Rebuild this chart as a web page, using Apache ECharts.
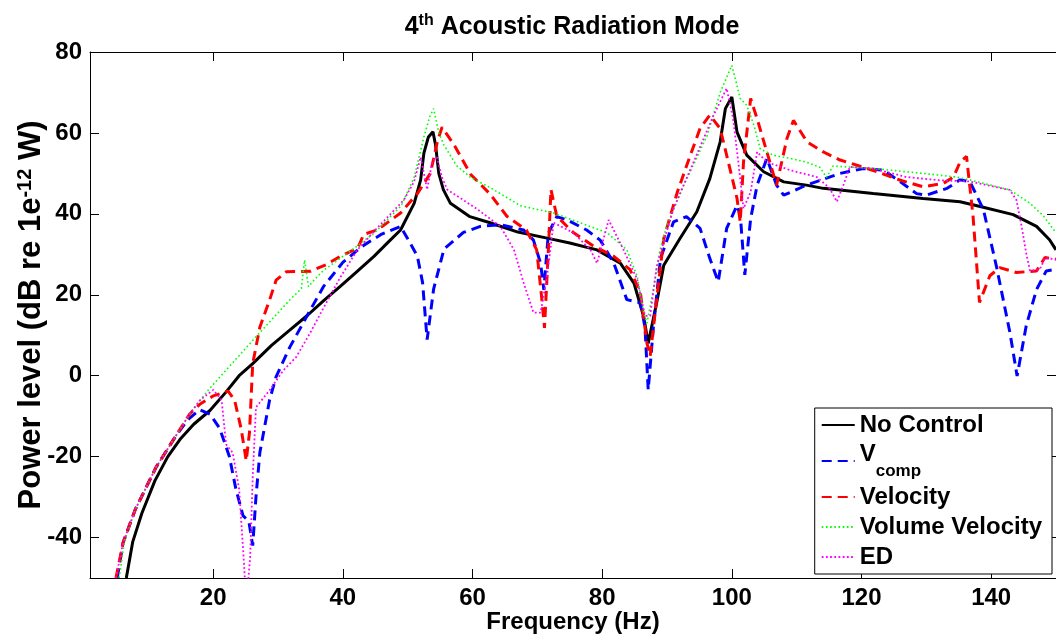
<!DOCTYPE html>
<html>
<head>
<meta charset="utf-8">
<script src="https://cdn.jsdelivr.net/npm/echarts@6/dist/echarts.min.js"></script>
<style>
	html, body { margin: 0; padding: 0; background: #fff; }
	#main { width: 1056px; height: 639px; }
</style>
</head>
<body>
<div id="main"></div>
<script>
// tick values of both axes
var freqTicks = [20, 40, 60, 80, 100, 120, 140];
var levelTicks = [-40, -20, 0, 20, 40, 60, 80];

// [frequency Hz, power level dB]
var noControl = [[6.6,-50],[7.6,-41],[9,-34],[11,-26],[13,-20],[15,-15.5],[17,-12],[19.5,-8.6],[22,-4],[24,0],[26.1,3],[29,7.5],[31.9,11.4],[34.6,15],[37,18.5],[39.6,22.1],[42,25.5],[44.8,29.5],[47,33],[48.9,36],[51,42.6],[52,48.4],[52.5,55],[53.2,59],[53.9,60.3],[54.3,57],[54.8,50],[55.5,46],[56.6,42.6],[59.6,39.3],[62.7,37.8],[67,35.5],[71.5,34],[75,32.8],[79.2,31.1],[82.8,27.8],[84.9,22.9],[86.4,14.6],[87.1,8],[88.4,18],[89.5,27.3],[92,33.9],[94.6,40.5],[96.6,48.7],[98.2,57.8],[99,66],[100,68.9],[100.8,60.2],[102.3,54.5],[104.9,50.4],[108,47.9],[111.5,47.1],[114.1,46.3],[121.8,45],[129.5,43.8],[135.2,43],[138.3,41.8],[143.4,39.8],[147,36.9],[149,33.6],[150,31.1]];

var vComp = [[5.2,-50],[6.1,-41.3],[8,-33],[11.2,-22.6],[14,-15.5],[16,-11],[17.9,-8.4],[19.5,-9.5],[21,-13],[22.5,-20],[23.5,-28],[24.6,-34.6],[25.5,-36],[26.1,-42],[26.6,-30],[27.2,-19],[28.7,-6],[29.7,-0.3],[31.8,7],[34.9,16],[37,22],[40,28],[43,32],[46,35],[48.9,36.9],[50.3,33],[51.5,29.5],[52.3,23],[53,8.9],[54,21.4],[55.6,31.3],[58.6,35.4],[61.2,36.9],[64.3,37.3],[67.9,36],[69.4,33.5],[70.5,27.8],[71,21.2],[71.7,35.2],[73,39.3],[74.6,38.5],[77.6,36],[79.7,33.5],[81.8,27.8],[83.8,18.8],[85.9,18],[86.6,12],[87.1,-3.5],[87.9,12],[89,29],[91,38],[93,39.3],[95.1,36.4],[96.6,29],[97.9,23.2],[99.2,36.4],[100.8,42.1],[101.3,39.7],[102,24.9],[102.9,38.8],[103.9,47.1],[105.4,53.7],[106.9,47.1],[108,44.6],[111.5,47.1],[116.7,50],[120.3,51.2],[123.4,50.8],[126,47.9],[128.5,45],[130,44.6],[133.2,46.3],[135.2,48.4],[136.7,48],[138.8,41.1],[140.8,27.1],[142.9,10.6],[144,-0.1],[145.4,12.3],[147,21.3],[148.5,25.9],[150,26.3]];

var velocity = [[5,-50],[6.1,-41.3],[8,-33],[11.2,-22.6],[14,-15.5],[16.4,-9.4],[18,-7],[20,-5],[22.3,-3.8],[23.3,-6],[24.3,-13],[25.1,-21],[25.6,-14],[26.1,3],[27.2,12],[28.7,18.7],[29.7,23.6],[31.3,25.7],[35,25.8],[37.5,27.5],[39.6,29.5],[42.3,31.5],[43.2,34.9],[45.3,36],[48.9,40.2],[51.5,45],[53.5,50],[54.6,58],[55.3,61.4],[57.1,57.2],[59.7,49.8],[62.7,44.9],[65.3,39.4],[68.3,36],[69.9,31.1],[70.7,18.8],[71.1,11.8],[71.7,31],[72.1,46],[73,39.4],[75.6,35.3],[78.7,32],[81.8,29.5],[84.3,26.2],[85.9,20.5],[86.9,8.1],[87.4,4.8],[88.4,18.8],[89.5,33.9],[91.6,45.4],[93.6,54.5],[95.1,61.1],[96.6,64.4],[98.2,61.1],[99.7,51.2],[100.8,43.8],[101.3,38],[101.8,52.8],[102.9,68.5],[103.9,63.5],[105.4,55.3],[106.9,47.1],[108.5,58.6],[109.5,63.1],[111.6,57.8],[114.1,55.3],[116.7,53.3],[119.3,52],[122.4,50.4],[126,48.3],[129.5,46.7],[132.6,47.5],[134.2,49.1],[135.2,52.8],[136.2,54.2],[137.2,39.5],[138.2,18.1],[139.8,24.7],[141.3,26.7],[143.9,25.5],[147,25.9],[148.3,29.2],[150,28.8]];

var volumeVelocity = [[5.5,-50],[6.3,-41],[8,-33],[11.2,-22.6],[14,-15.5],[16.4,-9.4],[19,-4],[21.5,0.5],[26.6,9.6],[31.8,18.7],[33.6,21.5],[34.1,28.6],[34.7,22],[35.5,23.5],[37,26],[40,29.5],[42.2,32],[45,35.5],[47.3,39.3],[49,42],[51,49],[52.5,59],[53.4,64],[54,66],[54.8,60],[55.6,57],[57.5,52],[59.7,49],[62.7,46.5],[67.4,42],[72.5,40.2],[76.6,37.8],[80.8,35.3],[83.8,31.1],[85.4,24.6],[86.4,15.6],[86.9,13],[87.9,21.3],[88.9,31],[90,37.2],[92.6,47.1],[96.2,59.4],[98.2,70],[100,76.7],[101.3,68.5],[102.3,66.8],[103.4,61.9],[104.4,56],[106.4,54.5],[109,53.7],[111.5,52.8],[113.6,51.5],[114.6,49],[115.6,51.8],[121.8,51.2],[129.5,50],[134.6,49.1],[136.7,48.4],[142.9,45.9],[146,42.6],[148.1,39.4],[150,35.3]];

var ed = [[5,-50],[6.1,-41.3],[8,-33],[11.2,-22.6],[14,-15.5],[16.4,-9.4],[18,-6],[20,-3.5],[21.3,-6],[22,-17],[23,-19],[24,-28],[24.7,-45],[25.1,-56],[25.7,-45],[26.1,-25],[26.6,-7.8],[28.7,-3.6],[30.8,1.3],[32.8,4.6],[34.9,10.4],[37.1,17],[39.5,24],[42.2,31],[45,36],[49.4,43.4],[51,48],[52,54],[53,46],[53.8,53],[54.5,54],[55.3,49],[56.1,46],[60.7,41.2],[64.3,36.9],[66.4,31.1],[67.9,22.9],[69.4,15.6],[70.5,15.6],[71.5,24.6],[72.5,37.8],[75.6,35.3],[78.2,31.1],[79.2,27.8],[81,38.5],[83.3,31.1],[85.4,23.8],[86.6,14.8],[87.4,14.8],[88.4,27],[91,41.3],[94.1,52.8],[97.2,64.4],[99.2,71],[100.2,63.5],[101,52.8],[101.8,41.3],[102.9,45.4],[103.9,55.3],[105.4,52.8],[109,50.8],[113.1,49.1],[115.1,46.3],[116.2,43],[117.2,47.1],[118.2,51.6],[121.8,51.2],[126.9,49.1],[132,48.3],[136.7,48],[142.9,45.9],[143.9,43.4],[144.7,36.9],[145.4,30.3],[146,25.9],[147.5,26.3],[148.3,29],[150,28.8]];

var FONT = '"Liberation Sans", Arial, Helvetica, sans-serif';

var chart = echarts.init(document.getElementById('main'));

function sideAxis(pos) {
	var isX = pos == 'bottom' || pos == 'top';
	return {
		type: 'value',
		position: pos,
		min: isX ? 1 : -50,
		max: isX ? 150 : 80,
		axisLine: { show: true, onZero: false, lineStyle: { color: '#000', width: 1 } },
		axisTick: { show: true, inside: true, length: 9, customValues: isX ? freqTicks : levelTicks, lineStyle: { color: '#000' } },
		axisLabel: { show: false },
		splitLine: { show: false }
	};
}

var xBottom = sideAxis('bottom');
xBottom.axisLabel = { show: true, customValues: freqTicks, color: '#000', fontSize: 24, fontWeight: 'bold', fontFamily: FONT, margin: 8 };
xBottom.name = 'Frequency (Hz)';
xBottom.nameLocation = 'middle';
xBottom.nameGap = 32;
xBottom.nameMoveOverlap = false;
xBottom.nameTextStyle = { color: '#000', fontSize: 24, fontWeight: 'bold', fontFamily: FONT };

var yLeft = sideAxis('left');
yLeft.axisLabel = { show: true, customValues: levelTicks, color: '#000', fontSize: 24, fontWeight: 'bold', fontFamily: FONT, margin: 8 };
yLeft.name = '{n|Power level (dB re 1e}{s|-12}{n| W)}';
yLeft.nameLocation = 'middle';
yLeft.nameRotate = 90;
yLeft.nameGap = 43;
yLeft.nameMoveOverlap = false;
yLeft.nameTextStyle = {
	color: '#000',
	rich: {
		n: { fontSize: 31, fontWeight: 'bold', fontFamily: FONT, color: '#000', lineHeight: 32 },
		s: { fontSize: 20, fontWeight: 'bold', fontFamily: FONT, color: '#000', lineHeight: 20, verticalAlign: 'top' }
	}
};

function lineSeries(name, data, color, width, dash) {
	return {
		name: name,
		type: 'line',
		data: data,
		symbol: 'none',
		clip: true,
		lineStyle: { color: color, width: width, type: dash },
		itemStyle: { color: color },
		emphasis: { disabled: true }
	};
}

option = {
	animation: false,
	backgroundColor: '#fff',
	title: {
		text: '{n|4}{s|th}{n| Acoustic Radiation Mode}',
		left: 567,
		top: 8,
		textAlign: 'center',
		textStyle: {
			rich: {
				n: { fontSize: 25, fontWeight: 'bold', fontFamily: FONT, color: '#000', lineHeight: 28 },
				s: { fontSize: 16, fontWeight: 'bold', fontFamily: FONT, color: '#000', lineHeight: 16, verticalAlign: 'top' }
			}
		}
	},
	grid: { left: 90, right: 0, top: 52, bottom: 61, show: false, outerBoundsMode: 'none', containLabel: false },
	xAxis: [xBottom, sideAxis('top')],
	yAxis: [yLeft, sideAxis('right')],
	legend: {
		orient: 'vertical',
		right: 4,
		top: 408,
		align: 'left',
		padding: [4, 10, 4, 6],
		itemGap: 4,
		itemWidth: 33,
		itemHeight: 14,
		backgroundColor: '#fff',
		borderColor: '#000',
		borderWidth: 1,
		borderRadius: 0,
		selectedMode: false,
		itemStyle: { color: 'rgba(0,0,0,0)', borderWidth: 0, opacity: 0 },
		formatter: function(name) {
			if(name == 'V_comp') {
				return '{v|V}{b|comp}';
			}
			return name;
		},
		textStyle: {
			color: '#000',
			fontSize: 24,
			fontWeight: 'bold',
			fontFamily: FONT,
			lineHeight: 26,
			rich: {
				v: { fontSize: 24, fontWeight: 'bold', fontFamily: FONT, color: '#000', lineHeight: 26, verticalAlign: 'top' },
				b: { fontSize: 17, fontWeight: 'bold', fontFamily: FONT, color: '#000', lineHeight: 38, padding: [20, 0, 0, 0], verticalAlign: 'bottom' }
			}
		},
		data: ['No Control', 'V_comp', 'Velocity', 'Volume Velocity', 'ED']
	},
	series: [
		lineSeries('No Control', noControl, '#000000', 3, 'solid'),
		lineSeries('V_comp', vComp, '#0000ff', 3, [10, 6]),
		lineSeries('Velocity', velocity, '#ff0000', 3, [10, 6]),
		lineSeries('Volume Velocity', volumeVelocity, '#00ff00', 1.6, [1.6, 2.6]),
		lineSeries('ED', ed, '#ff00ff', 1.8, [1.8, 2.4])
	]
};

chart.setOption(option);
</script>
</body>
</html>
